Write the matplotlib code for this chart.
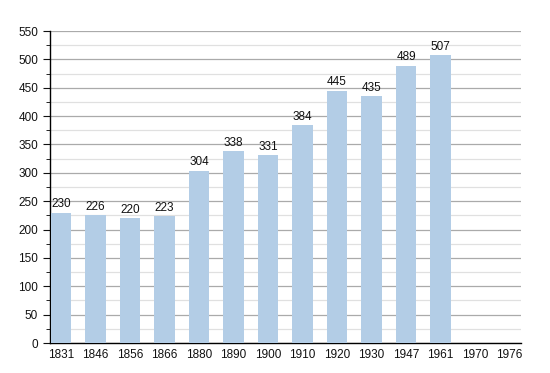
import numpy as np
import matplotlib
matplotlib.use("Agg")
import matplotlib.pyplot as plt
from matplotlib.ticker import MultipleLocator

plt.rcParams["font.family"] = ["Liberation Sans", "DejaVu Sans"]

years = ["1831", "1846", "1856", "1866", "1880", "1890", "1900",
         "1910", "1920", "1930", "1947", "1961", "1970", "1976"]
population = [230, 226, 220, 223, 304, 338, 331, 384, 445, 435, 489, 507, None, None]

fig = plt.figure(figsize=(5.5, 3.73), dpi=100)
ax = fig.add_axes([50 / 550, 30 / 373, 471 / 550, 312 / 373])

x = np.arange(len(years))
for i, v in enumerate(population):
    if v is None:
        continue
    ax.bar(x[i], v, width=0.6, color="#b3cde6", zorder=3)
    ax.text(x[i], v + 4, str(v), ha="center", va="bottom", fontsize=8.5, color="#111111", zorder=4)

ax.set_xlim(-0.32, 13.33)
ax.set_ylim(0, 550)
ax.set_xticks(x)
ax.set_xticklabels(years)
ax.yaxis.set_major_locator(MultipleLocator(50))
ax.yaxis.set_minor_locator(MultipleLocator(25))
ax.grid(axis="y", which="major", color="#aaaaaa", lw=0.9, zorder=0)
ax.grid(axis="y", which="minor", color="#e0e0e0", lw=0.9, zorder=0)

for s in ["top", "right"]:
    ax.spines[s].set_visible(False)
ax.spines["left"].set_linewidth(1.0)
ax.spines["bottom"].set_linewidth(1.0)
ax.tick_params(axis="x", length=0, labelsize=8.5, pad=4, colors="#111111")
ax.tick_params(axis="y", which="major", length=5, labelsize=8.5, colors="#111111")
ax.tick_params(axis="y", which="minor", length=3)

fig.savefig("out.png", dpi=100)
